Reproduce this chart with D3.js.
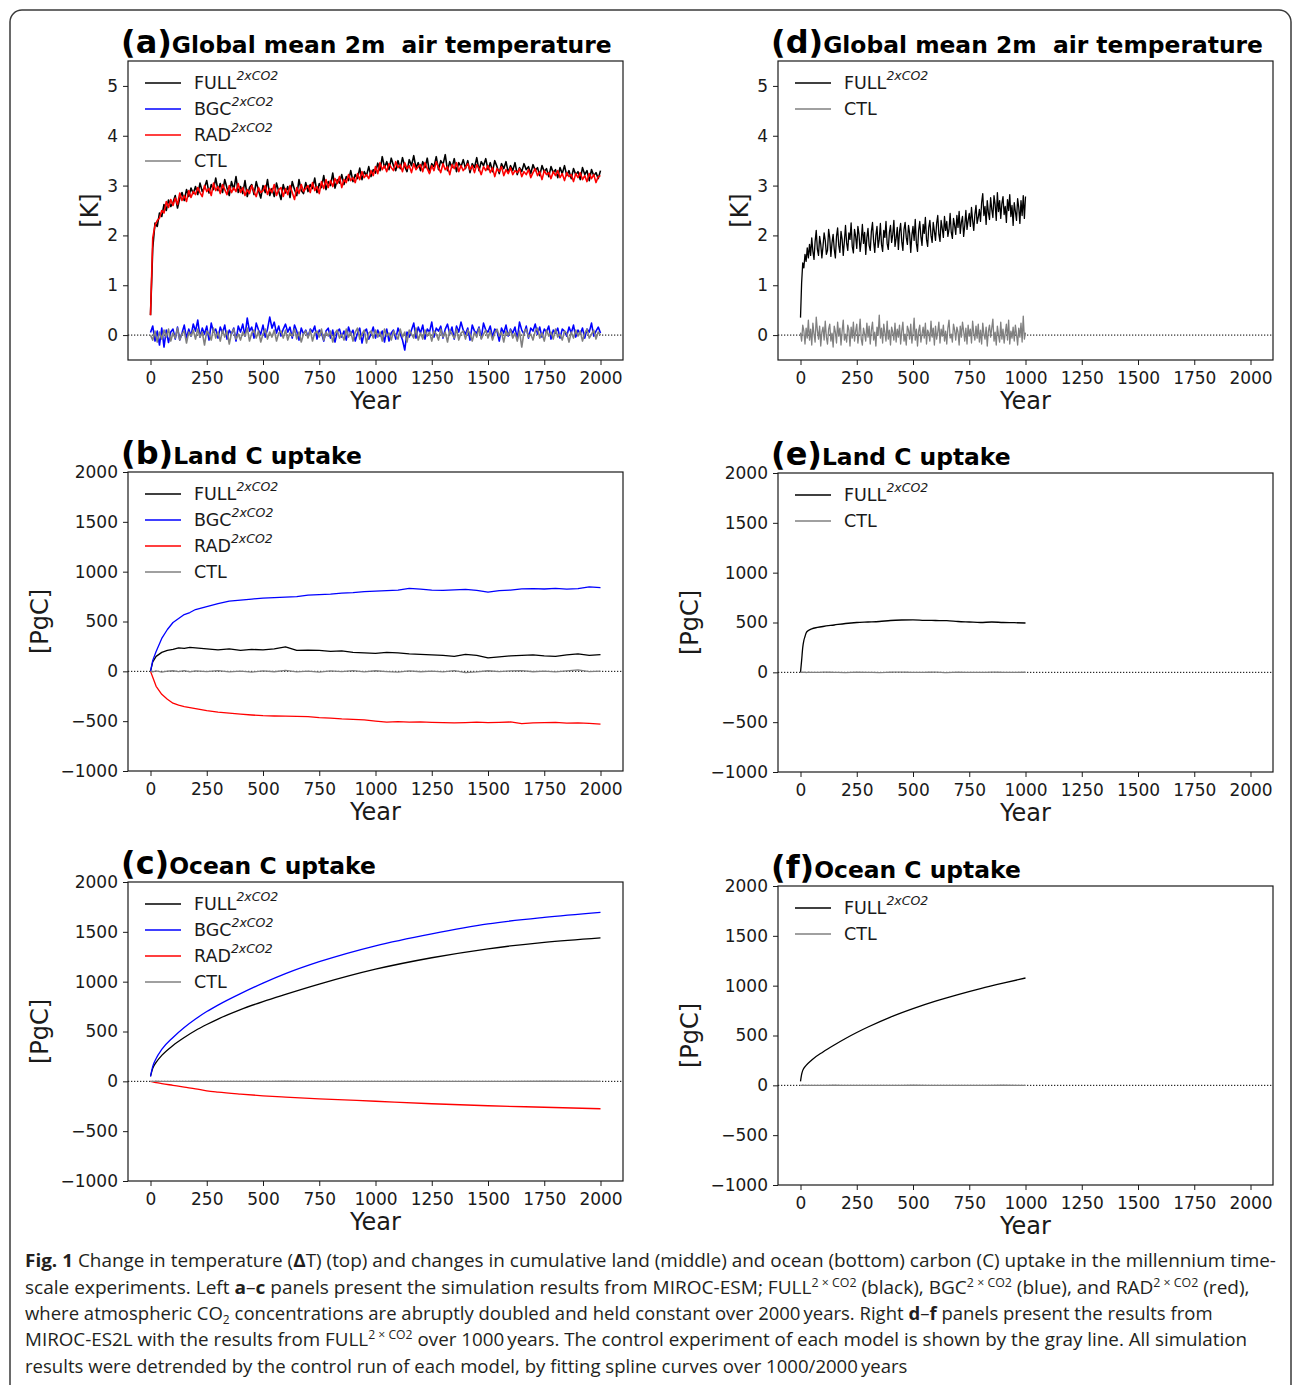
<!DOCTYPE html>
<html lang="en">
<head>
<meta charset="UTF-8">
<script src="https://cdnjs.cloudflare.com/ajax/libs/d3/7.8.5/d3.min.js"></script>
<style>
  body { margin: 0; background: #fff; }
  svg { display: block; font-family: "DejaVu Sans", sans-serif; }
</style>
</head>
<body>
<svg id="fig" width="1293" height="1385"></svg>
<script>
// ---- tick labels ----
const yearTicks = [0, 250, 500, 750, 1000, 1250, 1500, 1750, 2000];
const tempTicks = [0, 1, 2, 3, 4, 5];
const carbonTicks = [-1000, -500, 0, 500, 1000, 1500, 2000];

// ---- (a) MIROC-ESM 2m air temperature, one value per 10 years ----
const tempYearsESM = d3.range(0, 2001, 10);
const tempFullESM = [
  0.40, 1.75, 2.25, 2.18, 2.45, 2.38, 2.62, 2.50, 2.71, 2.58,
  2.66, 2.80, 2.55, 2.74, 2.86, 2.70, 2.92, 2.78, 2.95, 2.84,
  2.98, 2.82, 3.05, 2.88, 2.96, 3.10, 2.85, 3.02, 2.92, 3.15,
  2.90, 3.04, 2.86, 3.12, 2.95, 2.80, 3.08, 2.92, 3.18, 2.86,
  2.98, 2.84, 3.10, 2.78, 2.96, 3.02, 2.82, 3.08, 2.90, 2.75,
  3.00, 2.86, 3.12, 2.80, 2.94, 2.78, 3.05, 2.88, 2.72, 3.02,
  2.85, 2.98, 2.76, 3.08, 2.92, 2.80, 3.12, 2.90, 2.84, 3.06,
  2.88, 3.02, 2.94, 3.15, 2.86, 3.04, 2.96, 3.20, 2.92, 3.08,
  3.00, 3.25, 2.95, 3.12, 3.05, 3.22, 3.02, 3.18, 3.10, 3.30,
  3.08, 3.22, 3.14, 3.35, 3.12, 3.28, 3.20, 3.38, 3.18, 3.32,
  3.25, 3.45, 3.30, 3.58, 3.36, 3.48, 3.32, 3.55, 3.40, 3.30,
  3.50, 3.34, 3.56, 3.38, 3.28, 3.52, 3.40, 3.60, 3.35, 3.46,
  3.30, 3.48, 3.36, 3.55, 3.26, 3.44, 3.38, 3.58, 3.32, 3.50,
  3.42, 3.62, 3.30, 3.48, 3.36, 3.54, 3.28, 3.46, 3.38, 3.52,
  3.34, 3.50, 3.26, 3.44, 3.36, 3.56, 3.30, 3.48, 3.40, 3.54,
  3.32, 3.46, 3.28, 3.50, 3.38, 3.24, 3.44, 3.34, 3.48, 3.26,
  3.40, 3.30, 3.46, 3.22, 3.36, 3.28, 3.44, 3.32, 3.38, 3.24,
  3.42, 3.30, 3.36, 3.20, 3.40, 3.28, 3.34, 3.18, 3.38, 3.26,
  3.32, 3.16, 3.36, 3.24, 3.40, 3.20, 3.30, 3.14, 3.34, 3.22,
  3.28, 3.12, 3.36, 3.22, 3.30, 3.10, 3.32, 3.20, 3.26, 3.14,
  3.30
];
const tempBgcESM = [
  0.05, 0.18, -0.12, 0.08, -0.20, 0.14, -0.24, 0.10, -0.15, 0.06,
  0.12, -0.08, 0.16, -0.10, 0.04, 0.20, -0.06, 0.12, -0.02, 0.22,
  0.08, 0.30, -0.04, 0.14, 0.02, 0.18, -0.10, 0.24, 0.06, 0.12,
  -0.06, 0.16, 0.04, 0.20, -0.08, 0.10, 0.02, 0.14, -0.12, 0.18,
  0.06, 0.22, -0.02, 0.34, 0.08, 0.16, -0.06, 0.24, 0.10, 0.02,
  0.20, -0.04, 0.12, 0.36, 0.14, 0.26, 0.04, 0.18, -0.02, 0.12,
  0.22, 0.06, 0.16, -0.06, 0.20, 0.08, -0.10, 0.14, 0.02, 0.10,
  -0.04, 0.12, 0.06, 0.18, -0.08, 0.10, 0.04, -0.12, 0.08, 0.14,
  -0.06, 0.10, -0.14, 0.06, 0.12, -0.04, 0.08, -0.10, 0.16, 0.02,
  0.10, -0.12, 0.04, 0.14, -0.16, 0.06, 0.12, -0.08, 0.02, 0.16,
  -0.06, 0.10, -0.02, 0.08, -0.14, 0.12, -0.12, 0.04, 0.10, -0.08,
  0.14, 0.02, -0.10, -0.30, 0.06, -0.04, 0.10, 0.24, -0.06, 0.16,
  0.04, 0.20, -0.08, 0.12, 0.06, 0.26, -0.04, 0.14, 0.08, 0.18,
  -0.06, 0.12, 0.22, 0.02, 0.16, -0.08, 0.18, 0.06, 0.26, 0.10,
  0.02, 0.14, -0.10, 0.20, 0.08, 0.04, 0.16, -0.06, 0.24, 0.10,
  0.06, 0.18, -0.04, 0.12, 0.08, -0.12, 0.14, 0.04, 0.20, -0.02,
  0.12, 0.04, 0.16, -0.08, 0.26, 0.10, 0.02, 0.18, -0.06, 0.14,
  0.08, 0.22, 0.02, 0.16, -0.04, 0.12, 0.06, 0.18, -0.08, 0.10,
  0.04, 0.14, -0.06, 0.12, 0.08, -0.02, 0.16, 0.04, 0.20, -0.04,
  0.10, 0.02, 0.14, -0.06, 0.12, 0.06, 0.24, -0.02, 0.08, 0.16,
  0.04
];
const tempRadESM = [
  0.40, 1.95, 2.20, 2.30, 2.35, 2.50, 2.45, 2.68, 2.56, 2.72,
  2.60, 2.75, 2.62, 2.85, 2.70, 2.80, 2.68, 2.90, 2.76, 2.88,
  2.82, 2.96, 2.86, 2.78, 3.00, 2.88, 2.94, 2.80, 3.05, 2.90,
  2.98, 2.84, 3.02, 2.92, 2.82, 3.00, 2.86, 2.96, 2.88, 3.04,
  2.86, 2.96, 2.80, 2.92, 2.84, 3.00, 2.88, 2.78, 2.96, 2.86,
  2.90, 3.00, 2.82, 2.94, 2.86, 3.02, 2.80, 2.92, 2.96, 2.78,
  2.94, 2.82, 3.00, 2.86, 2.72, 2.96, 2.84, 3.02, 2.88, 2.94,
  3.00, 2.86, 3.06, 2.90, 2.98, 2.84, 3.08, 2.94, 3.12, 2.96,
  3.10, 2.98, 3.14, 3.04, 3.18, 2.96, 3.12, 3.06, 3.22, 3.10,
  3.16, 3.06, 3.24, 3.12, 3.28, 3.16, 3.22, 3.14, 3.30, 3.20,
  3.38, 3.24, 3.46, 3.32, 3.40, 3.28, 3.44, 3.36, 3.30, 3.48,
  3.36, 3.42, 3.28, 3.46, 3.34, 3.40, 3.26, 3.44, 3.32, 3.38,
  3.42, 3.28, 3.46, 3.34, 3.24, 3.40, 3.30, 3.48, 3.36, 3.26,
  3.44, 3.32, 3.38, 3.22, 3.42, 3.34, 3.46, 3.28, 3.40, 3.30,
  3.36, 3.44, 3.32, 3.40, 3.26, 3.42, 3.34, 3.22, 3.38, 3.30,
  3.40, 3.26, 3.36, 3.18, 3.34, 3.28, 3.38, 3.20, 3.32, 3.24,
  3.36, 3.22, 3.30, 3.26, 3.34, 3.18, 3.28, 3.22, 3.32, 3.16,
  3.26, 3.34, 3.20, 3.28, 3.12, 3.30, 3.22, 3.26, 3.14, 3.28,
  3.20, 3.30, 3.16, 3.24, 3.10, 3.26, 3.18, 3.22, 3.08, 3.24,
  3.16, 3.26, 3.12, 3.20, 3.08, 3.24, 3.14, 3.22, 3.06, 3.18,
  3.20
];
const tempCtlESM = [
  0.00, -0.10, 0.08, -0.14, 0.06, -0.08, 0.10, -0.04, 0.12, -0.12,
  0.04, -0.06, 0.14, -0.10, 0.02, 0.08, -0.16, 0.06, -0.02, 0.10,
  -0.08, 0.12, -0.04, 0.06, -0.20, 0.08, 0.02, -0.10, 0.14, -0.06,
  0.06, -0.12, 0.10, -0.04, 0.08, -0.18, 0.04, 0.12, -0.08, 0.02,
  -0.10, 0.06, -0.02, 0.14, -0.12, 0.04, 0.10, -0.06, 0.08, -0.14,
  0.02, 0.12, -0.08, 0.06, -0.04, 0.10, -0.12, 0.04, 0.08, -0.06,
  0.10, -0.10, 0.04, -0.02, 0.12, -0.08, 0.06, -0.14, 0.02, 0.08,
  -0.06, 0.10, -0.12, 0.04, 0.08, -0.04, 0.12, -0.10, 0.06, -0.02,
  0.08, -0.14, 0.04, 0.10, -0.06, 0.02, -0.10, 0.12, -0.04, 0.06,
  -0.12, 0.06, 0.14, -0.08, 0.02, 0.10, -0.16, 0.04, 0.08, -0.06,
  0.10, -0.04, 0.06, -0.12, 0.12, -0.02, 0.04, -0.10, 0.08, 0.00,
  -0.08, 0.12, -0.04, 0.06, -0.14, 0.10, 0.02, -0.06, 0.14, -0.10,
  0.04, -0.08, 0.10, -0.02, 0.06, -0.12, 0.08, 0.02, -0.10, 0.12,
  -0.04, 0.06, -0.14, 0.10, 0.02, -0.06, 0.12, -0.10, 0.04, 0.08,
  -0.08, 0.10, 0.02, -0.12, 0.06, -0.04, 0.14, -0.08, 0.02, 0.10,
  -0.06, 0.08, -0.10, 0.04, 0.12, -0.02, 0.06, -0.14, 0.08, 0.00,
  0.10, -0.06, 0.04, -0.12, 0.08, -0.24, 0.06, 0.12, -0.04, 0.02,
  -0.10, 0.08, 0.14, -0.06, 0.04, -0.12, 0.10, -0.02, 0.06, -0.08,
  0.12, -0.04, 0.02, -0.10, 0.08, 0.04, -0.14, 0.06, -0.06, 0.10,
  -0.02, 0.08, -0.12, 0.04, 0.12, -0.06, 0.02, 0.10, -0.08, 0.06,
  0.00
];

// ---- (d) MIROC-ES2L 2m air temperature, one value per 5 years ----
const tempYearsES2L = d3.range(0, 1001, 5);
const tempFullES2L = [
  0.35, 1.05, 1.45, 1.35, 1.62, 1.48, 1.75, 1.55, 1.82, 1.60,
  1.95, 1.68, 1.52, 1.88, 2.10, 1.72, 1.60, 1.98, 1.82, 1.55,
  1.78, 2.05, 1.90, 1.62, 1.70, 2.12, 1.95, 1.58, 1.85, 2.02,
  1.72, 1.55, 1.98, 2.15, 1.80, 1.66, 2.08, 1.92, 1.60, 1.88,
  2.20, 1.85, 1.70, 2.05, 1.92, 2.25, 1.78, 1.65, 2.12, 1.98,
  1.74, 2.18, 2.02, 1.68, 1.90, 2.22, 1.84, 2.06, 1.62, 1.96,
  2.14, 1.80, 1.70, 2.08, 2.26, 1.88, 1.66, 2.00, 2.18, 1.76,
  1.92, 2.24, 1.82, 1.68, 2.10, 1.96, 2.28, 1.84, 1.72, 2.06,
  2.20, 1.86, 2.02, 2.30, 1.78, 1.94, 2.16, 1.72, 2.08, 2.24,
  1.88, 1.70, 2.12, 2.26, 1.96, 1.82, 2.20, 2.04, 1.66, 2.00,
  2.18, 1.90, 2.32, 1.84, 1.68, 2.10, 2.28, 1.98, 1.80, 2.22,
  2.04, 2.36, 1.92, 1.78, 2.16, 2.30, 2.00, 1.86, 2.26, 2.08,
  1.90, 2.24, 2.40, 2.02, 1.88, 2.30, 2.14, 1.96, 2.38, 2.10,
  2.28, 1.98, 2.12, 2.44, 2.06, 1.94, 2.34, 2.20, 2.02, 2.40,
  2.16, 2.48, 2.04, 2.26, 2.38, 1.98, 2.20, 2.50, 2.12, 2.30,
  2.44, 2.18, 2.56, 2.30, 2.10, 2.42, 2.60, 2.24, 2.36, 2.52,
  2.28, 2.66, 2.84, 2.40, 2.58, 2.22, 2.70, 2.46, 2.32, 2.76,
  2.52, 2.36, 2.80, 2.62, 2.30, 2.86, 2.48, 2.70, 2.34, 2.64,
  2.78, 2.42, 2.58, 2.26, 2.72, 2.50, 2.82, 2.38, 2.60, 2.20,
  2.66, 2.48, 2.30, 2.74, 2.56, 2.24, 2.70, 2.40, 2.80, 2.34,
  2.78
];
const tempCtlES2L = [
  0.05, -0.12, 0.20, 0.08, -0.18, 0.14, -0.06, 0.30, -0.10, 0.12,
  -0.20, 0.24, 0.02, -0.14, 0.36, 0.10, -0.08, 0.18, -0.22, 0.06,
  0.16, -0.10, 0.28, -0.04, -0.18, 0.12, 0.22, -0.12, 0.04, -0.24,
  0.18, 0.06, -0.16, 0.26, -0.02, 0.14, -0.20, 0.08, 0.30, -0.10,
  0.02, -0.14, 0.20, 0.10, -0.22, 0.16, -0.06, 0.26, -0.12, 0.08,
  0.22, -0.16, 0.04, 0.32, -0.08, -0.20, 0.14, 0.02, -0.12, 0.24,
  -0.04, 0.18, -0.18, 0.10, 0.26, -0.10, 0.06, -0.22, 0.16, 0.00,
  0.40, -0.06, 0.14, -0.16, 0.22, 0.04, -0.12, 0.28, -0.08, 0.10,
  -0.20, 0.16, 0.06, -0.10, 0.24, -0.14, 0.12, -0.04, 0.20, -0.18,
  0.08, 0.26, -0.12, 0.02, -0.20, 0.18, 0.10, -0.08, 0.22, -0.16,
  0.04, 0.34, -0.10, 0.12, -0.22, 0.08, 0.20, -0.14, 0.02, 0.16,
  -0.06, 0.24, -0.18, 0.10, 0.04, -0.12, 0.28, -0.04, 0.14, -0.20,
  0.18, -0.08, 0.06, 0.26, -0.16, 0.12, -0.02, 0.20, -0.12, 0.08,
  -0.18, 0.14, 0.30, -0.06, 0.02, -0.14, 0.22, 0.10, -0.10, 0.16,
  0.06, -0.20, 0.18, -0.04, 0.26, 0.08, -0.12, 0.14, -0.18, 0.20,
  -0.02, 0.12, -0.16, 0.28, 0.04, -0.10, 0.18, -0.06, 0.22, -0.14,
  0.10, -0.18, 0.24, 0.02, -0.08, 0.16, -0.22, 0.08, 0.20, -0.04,
  0.14, 0.32, -0.12, 0.06, -0.20, 0.18, 0.00, -0.14, 0.26, -0.08,
  0.12, -0.16, 0.04, 0.22, -0.10, 0.30, -0.18, 0.08, -0.06, 0.16,
  -0.12, 0.20, 0.02, -0.20, 0.14, -0.04, 0.24, -0.14, 0.38, -0.08,
  0.05
];

// ---- (b) MIROC-ESM land C uptake [PgC] ----
const landYears = [0, 10, 25, 50, 75, 100, 125, 150, 175, 200, 250, 300, 350, 400, 450,
  500, 550, 600, 650, 700, 750, 800, 850, 900, 950, 1000, 1050, 1100, 1150, 1200, 1250,
  1300, 1350, 1400, 1450, 1500, 1550, 1600, 1650, 1700, 1750, 1800, 1850, 1900, 1950, 2000];
const landFull = [0, 95, 150, 190, 210, 220, 235, 230, 240, 235, 225, 215, 225, 210, 220,
  215, 225, 245, 210, 212, 210, 200, 205, 190, 185, 180, 190, 185, 175, 170, 165,
  160, 150, 170, 160, 135, 145, 155, 160, 165, 155, 150, 165, 175, 160, 168];
const landBgc = [0, 110, 200, 330, 420, 490, 530, 570, 590, 620, 650, 680, 705, 715, 725,
  735, 740, 745, 750, 765, 770, 775, 785, 790, 800, 805, 810, 815, 832, 825, 815,
  812, 818, 822, 812, 795, 810, 815, 828, 830, 826, 832, 825, 830, 848, 840];
const landRad = [0, -60, -150, -230, -280, -320, -340, -355, -365, -375, -395, -410, -420, -430, -438,
  -445, -448, -450, -452, -455, -465, -470, -478, -482, -488, -500, -510, -505, -510, -508, -512,
  -515, -518, -515, -510, -515, -512, -508, -525, -518, -515, -512, -520, -518, -522, -530];
const landCtl = [0, -5, 5, -8, 3, 6, -4, 8, -6, 4, -3, 7, -5, 2, -8,
  5, -4, 10, -6, 3, -7, 4, -3, 8, -5, 6, -2, -8, 5, -4, 3,
  -6, 8, -12, -5, 6, -3, 4, 7, -4, 2, -6, 5, 15, -3, 2];

// ---- (c) MIROC-ESM ocean C uptake [PgC] ----
const oceanYears = [0, 10, 25, 50, 100, 150, 200, 250, 300, 400, 500, 600, 750, 1000, 1250, 1500, 1750, 2000];
const oceanFull = [50, 130, 190, 260, 360, 440, 510, 570, 625, 720, 800, 872, 975, 1125, 1240, 1330, 1395, 1440];
const oceanBgc = [50, 150, 230, 320, 440, 540, 625, 700, 765, 880, 985, 1080, 1200, 1360, 1480, 1580, 1645, 1695];
const oceanRad = [0, -5, -12, -22, -40, -58, -75, -95, -108, -128, -145, -158, -175, -200, -225, -245, -260, -275];
const oceanCtl = [0, 0, 1, 0, -1, 0, 1, 0, 0, -1, 0, 1, 0, 0, -1, 0, 1, 0];

// ---- (e) MIROC-ES2L land C uptake [PgC] ----
const landYearsES2L = [0, 5, 10, 15, 20, 25, 35, 50, 75, 100, 150, 200, 250, 300, 350, 400,
  450, 500, 550, 600, 650, 700, 750, 800, 850, 900, 950, 1000];
const landFullES2L = [0, 120, 250, 320, 360, 395, 420, 437, 450, 460, 475, 490, 500, 505, 510, 520,
  525, 527, 522, 520, 518, 510, 505, 500, 505, 500, 498, 495];
const landCtlES2L = [0, 1, -1, 2, 0, -2, 1, 0, -1, 2, 0, -2, 1, 0, -2, 1,
  3, -1, 0, 2, -2, 1, 0, -1, 2, 0, -1, 1];

// ---- (f) MIROC-ES2L ocean C uptake [PgC] ----
const oceanYearsES2L = [0, 5, 10, 25, 50, 100, 150, 200, 250, 300, 400, 500, 600, 700, 800, 900, 1000];
const oceanFullES2L = [40, 110, 150, 200, 255, 335, 405, 470, 530, 585, 685, 770, 845, 910, 970, 1025, 1077];
const oceanCtlES2L = [0, 0, 1, 0, -1, 0, 1, 0, -1, 0, 0, 1, 0, -1, 0, 1, 0];

const namesESM = ['FULL', 'BGC', 'RAD', 'CTL'];
const namesES2L = ['FULL', 'CTL'];

// ---- styling ----
const colors = { FULL: '#000000', BGC: '#0000ff', RAD: '#ff0000', CTL: '#808080' };
const W = 495, H = 299;
const ink = '#1a1a1a';

const panels = [
  { tag: '(a)', title: 'Global mean 2m  air temperature', left: 128, top: 61,
    yDomain: [-0.5, 5.5], yTicks: tempTicks, yLabel: '[K]', yLabelX: 98, names: namesESM,
    years: tempYearsESM, values: [tempFullESM, tempBgcESM, tempRadESM, tempCtlESM], lw: 1.6 },
  { tag: '(b)', title: 'Land C uptake', left: 128, top: 472,
    yDomain: [-1000, 2000], yTicks: carbonTicks, yLabel: '[PgC]', yLabelX: 48, names: namesESM,
    years: landYears, values: [landFull, landBgc, landRad, landCtl] },
  { tag: '(c)', title: 'Ocean C uptake', left: 128, top: 882,
    yDomain: [-1000, 2000], yTicks: carbonTicks, yLabel: '[PgC]', yLabelX: 48, names: namesESM,
    years: oceanYears, values: [oceanFull, oceanBgc, oceanRad, oceanCtl], smooth: true },
  { tag: '(d)', title: 'Global mean 2m  air temperature', left: 778, top: 61,
    yDomain: [-0.5, 5.5], yTicks: tempTicks, yLabel: '[K]', yLabelX: 748, names: namesES2L,
    years: tempYearsES2L, values: [tempFullES2L, tempCtlES2L], lw: 1.3 },
  { tag: '(e)', title: 'Land C uptake', left: 778, top: 473,
    yDomain: [-1000, 2000], yTicks: carbonTicks, yLabel: '[PgC]', yLabelX: 698, names: namesES2L,
    years: landYearsES2L, values: [landFullES2L, landCtlES2L], smooth: true },
  { tag: '(f)', title: 'Ocean C uptake', left: 778, top: 886,
    yDomain: [-1000, 2000], yTicks: carbonTicks, yLabel: '[PgC]', yLabelX: 698, names: namesES2L,
    years: oceanYearsES2L, values: [oceanFullES2L, oceanCtlES2L], smooth: true }
];

const svg = d3.select('#fig');

// outer rounded border of the figure box
svg.append('rect')
  .attr('x', 10).attr('y', 10).attr('width', 1281).attr('height', 1420).attr('rx', 12)
  .attr('fill', 'none').attr('stroke', '#3a3a3a').attr('stroke-width', 1.5);

panels.forEach(drawPanel);

function drawPanel(p) {
  const g = svg.append('g');
  const x = d3.scaleLinear().domain([-100, 2100]).range([p.left, p.left + W]);
  const y = d3.scaleLinear().domain(p.yDomain).range([p.top + H, p.top]);

  // dotted zero line
  g.append('line')
    .attr('x1', p.left).attr('x2', p.left + W)
    .attr('y1', y(0)).attr('y2', y(0))
    .attr('stroke', '#000').attr('stroke-width', 1).attr('stroke-dasharray', '1.3,1.7');

  const line = d3.line()
    .x(d => x(d[0])).y(d => y(d[1]))
    .curve(p.smooth ? d3.curveMonotoneX : d3.curveLinear);

  p.names.forEach((name, i) => {
    g.append('path')
      .datum(d3.zip(p.years, p.values[i]))
      .attr('d', line)
      .attr('fill', 'none')
      .attr('stroke', colors[name])
      .attr('stroke-width', p.lw || 1.3)
      .attr('stroke-linejoin', 'round');
  });

  // axes
  const xa = g.append('g')
    .attr('transform', `translate(0,${p.top + H})`)
    .call(d3.axisBottom(x).tickValues(yearTicks).tickFormat(d3.format('d')).tickSize(5).tickPadding(7));
  const ya = g.append('g')
    .attr('transform', `translate(${p.left},0)`)
    .call(d3.axisLeft(y).tickValues(p.yTicks).tickFormat(d3.format('d')).tickSize(5).tickPadding(5));
  [xa, ya].forEach(a => {
    a.select('.domain').remove();
    a.attr('font-family', null).attr('font-size', null);
    a.selectAll('text').attr('font-size', 17).attr('fill', ink);
    a.selectAll('line').attr('stroke', ink).attr('stroke-width', 1);
  });

  // frame
  g.append('rect')
    .attr('x', p.left).attr('y', p.top).attr('width', W).attr('height', H)
    .attr('fill', 'none').attr('stroke', ink).attr('stroke-width', 1.2);

  // legend
  p.names.forEach((name, i) => {
    const ly = p.top + 22 + i * 26;
    g.append('line')
      .attr('x1', p.left + 17).attr('x2', p.left + 53)
      .attr('y1', ly).attr('y2', ly)
      .attr('stroke', colors[name]).attr('stroke-width', 1.3);
    const t = g.append('text')
      .attr('x', p.left + 66).attr('y', ly + 6)
      .attr('font-size', 17.5).attr('fill', ink)
      .text(name);
    if (name !== 'CTL') {
      t.append('tspan').attr('dy', -9).attr('font-size', 12.5).attr('font-style', 'italic').text('2xCO2');
    }
  });

  // title
  const tt = g.append('text')
    .attr('x', p.left - 7).attr('y', p.top - 8)
    .attr('font-weight', 'bold').attr('fill', '#000')
    .style('white-space', 'pre');
  tt.append('tspan').attr('font-size', 32).text(p.tag);
  tt.append('tspan').attr('font-size', 23.4).text(p.title);

  // axis labels
  g.append('text')
    .attr('x', p.left + W / 2).attr('y', p.top + H + 49)
    .attr('text-anchor', 'middle').attr('font-size', 24).attr('fill', ink)
    .text('Year');
  g.append('text')
    .attr('transform', `translate(${p.yLabelX},${p.top + H / 2}) rotate(-90)`)
    .attr('text-anchor', 'middle').attr('font-size', 24).attr('fill', ink)
    .text(p.yLabel);
}

// ---- caption ----
const captionLines = [
  [['Fig. 1', 'b'], [' Change in temperature (', ''], ['\u0394', 'b'],
   ['T) (top) and changes in cumulative land (middle) and ocean (bottom) carbon (C) uptake in the millennium time-', '']],
  [['scale experiments. Left ', ''], ['a', 'b'], ['\u2013', ''], ['c', 'b'],
   [' panels present the simulation results from MIROC-ESM; FULL', ''], ['2 \u00d7 CO2', 'sup'],
   [' (black), BGC', ''], ['2 \u00d7 CO2', 'sup'], [' (blue), and RAD', ''], ['2 \u00d7 CO2', 'sup'], [' (red),', '']],
  [['where atmospheric CO', ''], ['2', 'sub'],
   [' concentrations are abruptly doubled and held constant over 2000\u2009years. Right ', ''],
   ['d', 'b'], ['\u2013', ''], ['f', 'b'], [' panels present the results from', '']],
  [['MIROC-ES2L with the results from FULL', ''], ['2 \u00d7 CO2', 'sup'],
   [' over 1000\u2009years. The control experiment of each model is shown by the gray line. All simulation', '']],
  [['results were detrended by the control run of each model, by fitting spline curves over 1000/2000\u2009years', '']]
];
const captionBaselines = [1267, 1294, 1320, 1346, 1373];
const captionWidths = [1252, 1226, 1188, 1223, 883];

captionLines.forEach((segs, i) => {
  const g = svg.append('g').attr('transform', `translate(25,${captionBaselines[i]})`);
  const t = g.append('text')
    .attr('x', 0).attr('y', 0)
    .attr('font-family', '"Open Sans", "Noto Sans", sans-serif')
    .attr('font-size', 18.5).attr('fill', '#231f20');
  let shift = 0;
  segs.forEach(([s, kind]) => {
    const ts = t.append('tspan').text(s);
    let want = 0;
    if (kind === 'b') ts.attr('font-weight', 'bold');
    if (kind === 'sup') { ts.attr('font-size', 12); want = -7; }
    if (kind === 'sub') { ts.attr('font-size', 12); want = 4; }
    if (want !== shift) { ts.attr('dy', want - shift); shift = want; }
  });
  const w = t.node().getComputedTextLength();
  g.attr('transform', `translate(25,${captionBaselines[i]}) scale(${captionWidths[i] / w},1)`);
});
</script>
</body>
</html>
